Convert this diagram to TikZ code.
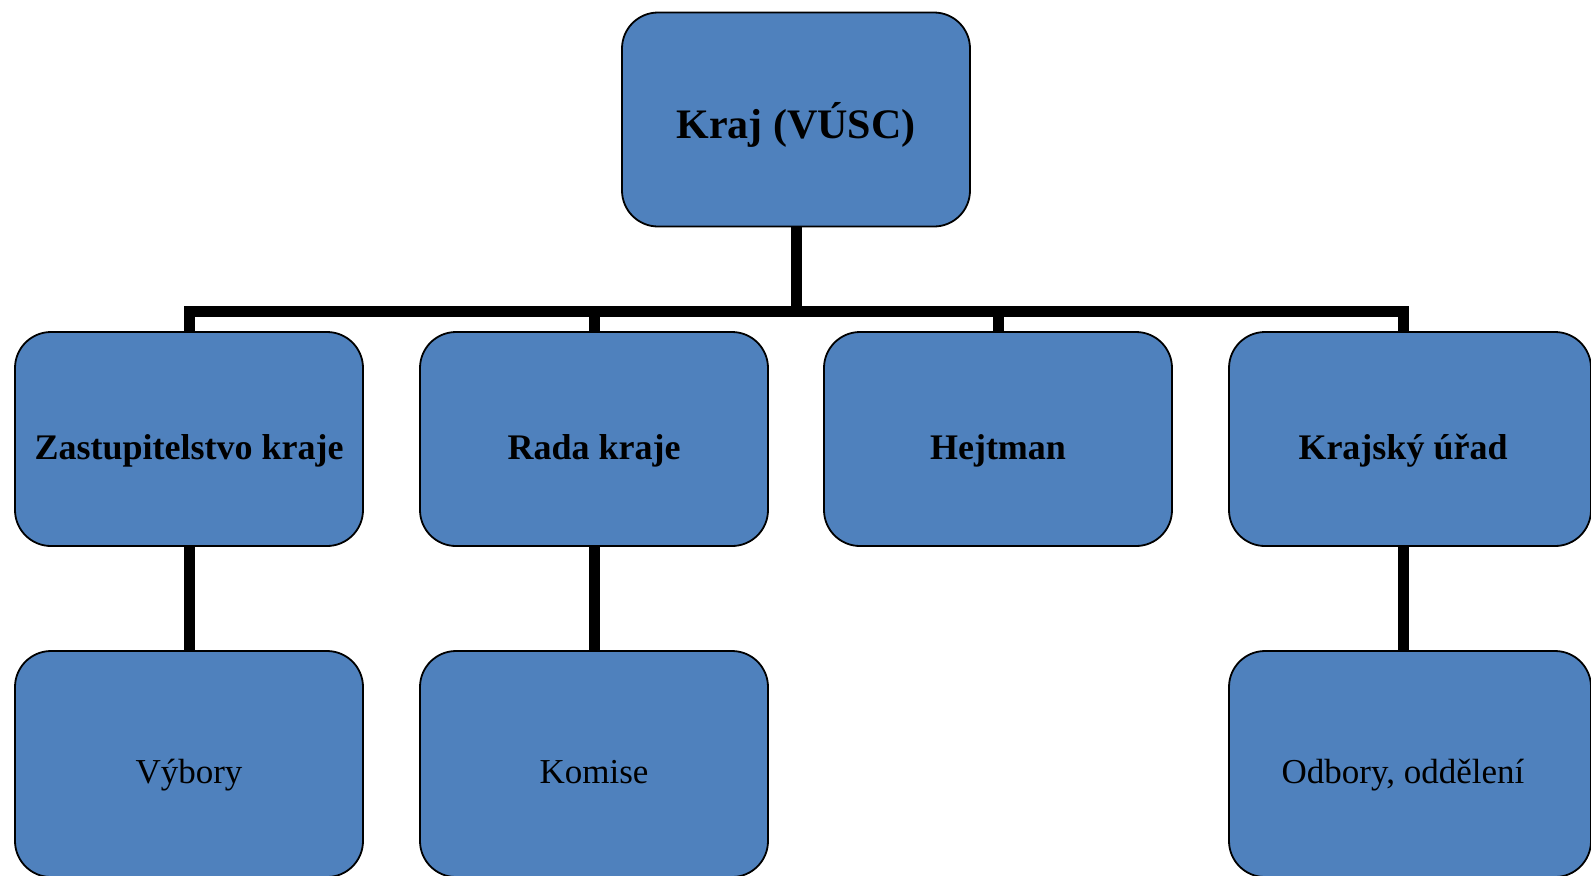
\documentclass[tikz,border=0pt]{standalone}
\usepackage{fontspec}
\setmainfont{Liberation Serif}
\usetikzlibrary{backgrounds}
\definecolor{boxblue}{HTML}{4F81BD}
\begin{document}
\begin{tikzpicture}[x=0.5pt,y=-0.5pt,
  orgbox/.style={draw=black,line width=0.9pt,fill=boxblue,rounded corners=18pt,
    minimum width=174pt,minimum height=107pt,inner sep=0pt,text=black,anchor=center,
    text depth=0pt},
  lvltop/.style={font=\fontsize{21}{25}\selectfont\bfseries,text height=18.5pt},
  lvlmid/.style={font=\fontsize{18}{21}\selectfont\bfseries,text height=20pt},
  lvllow/.style={font=\fontsize{17.5}{20}\selectfont,text height=19pt,minimum height=113pt},
  conn/.style={draw=black,line width=5.5pt}]
\useasboundingbox (0,0) rectangle (1591,875);
\clip (0,0) rectangle (1591,875);
% nodes
\node[orgbox,lvltop] (top) at (796,119.5) {Kraj (VÚSC)};
\node[orgbox,lvlmid] (b1) at (189,439) {Zastupitelstvo kraje};
\node[orgbox,lvlmid] (b2) at (594,439) {Rada kraje};
\node[orgbox,lvlmid] (b3) at (998,439) {Hejtman};
\node[orgbox,lvlmid,minimum width=181pt] (b4) at (1410,439) {Krajský úřad\kern7pt};
\node[orgbox,lvllow] (c1) at (189,764) {Výbory};
\node[orgbox,lvllow] (c2) at (594,764) {Komise};
\node[orgbox,lvllow,minimum width=181pt] (c4) at (1410,764) {Odbory, oddělení\kern7pt};
\coordinate (bus) at (796,311);
\coordinate (b4n) at ([xshift=-3.5pt]b4.north);
\coordinate (b4s) at ([xshift=-3.5pt]b4.south);
\coordinate (c4n) at ([xshift=-3.5pt]c4.north);
% connectors behind boxes
\begin{pgfonlayer}{background}
\draw[conn] (top.south) -- (bus);
\draw[conn] (b1.north) |- (bus) -| (b4n);
\draw[conn] (b2.north) -- (b2.north |- bus);
\draw[conn] (b3.north) -- (b3.north |- bus);
\draw[conn] (b1.south) -- (c1.north);
\draw[conn] (b2.south) -- (c2.north);
\draw[conn] (b4s) -- (c4n);
\end{pgfonlayer}
\end{tikzpicture}
\end{document}
